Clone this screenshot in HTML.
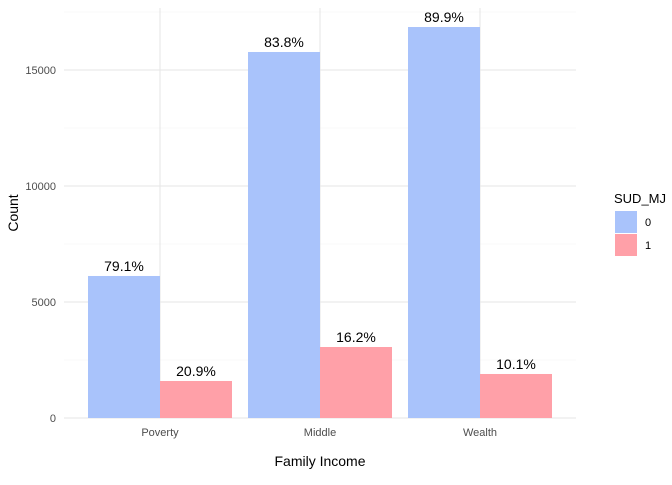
<!DOCTYPE html>
<html><head><meta charset="utf-8"><style>
body{margin:0;background:#fff;font-family:"Liberation Sans",sans-serif;}
</style></head><body>
<svg id="chart" width="672" height="480" xmlns="http://www.w3.org/2000/svg" font-family="Liberation Sans, sans-serif"></svg>
<script>
const categories=["Poverty","Middle","Wealth"];
const series0=[6121,15776,16853];
const series1=[1595,3060,1897];
const labels0=["79.1%","83.8%","89.9%"];
const labels1=["20.9%","16.2%","10.1%"];
const yTicks=[0,5000,10000,15000];
const yMinor=[2500,7500,12500,17500];
const legendKeys=["0","1"];

const svg=document.getElementById('chart');
const NS='http://www.w3.org/2000/svg';
const L=64,R=576,T=8,B=418;
function y(v){return 418-v*116/5000;}
function x(i){return 160+i*160;}
function mk(tag,attrs,parent){const e=document.createElementNS(NS,tag);for(const k in attrs)e.setAttribute(k,attrs[k]);(parent||svg).appendChild(e);return e;}
yMinor.forEach(v=>{const l=mk('line',{x1:L,x2:R,y1:y(v),y2:y(v),stroke:'#f2f2f2','stroke-width':0.6});

});
yTicks.forEach(v=>{const l=mk('line',{x1:L,x2:R,y1:y(v),y2:y(v),stroke:'#e6e6e6','stroke-width':1.1});


const t=mk('text',{x:56,y:y(v)+4,'text-anchor':'end','font-size':11,fill:'#4d4d4d'});t.textContent=v;

});
categories.forEach((c,i)=>{const l=mk('line',{x1:x(i),x2:x(i),y1:T,y2:B,stroke:'#e6e6e6','stroke-width':1.1});


const w=72;
const b0=mk('rect',{x:x(i)-w,y:y(series0[i]),width:w,height:B-y(series0[i]),fill:'#a9c3fb'});


const b1=mk('rect',{x:x(i),y:y(series1[i]),width:w,height:B-y(series1[i]),fill:'#ffa0a8'});


const t0=mk('text',{x:x(i)-w/2,y:y(series0[i])-5,'text-anchor':'middle','font-size':14,fill:'#000'});t0.textContent=labels0[i];


const t1=mk('text',{x:x(i)+w/2,y:y(series1[i])-5,'text-anchor':'middle','font-size':14,fill:'#000'});t1.textContent=labels1[i];


const tx=mk('text',{x:x(i),y:436,'text-anchor':'middle','font-size':11,fill:'#4d4d4d'});tx.textContent=c;

});
const xt=mk('text',{x:320,y:466,'text-anchor':'middle','font-size':14,fill:'#000'});xt.textContent='Family Income';


const yt=mk('text',{x:18,y:213,'text-anchor':'middle','font-size':14,fill:'#000',transform:'rotate(-90 18 213)'});yt.textContent='Count';


const lt=mk('text',{x:614,y:203,'font-size':13,fill:'#000'});lt.textContent='SUD_MJ';


const cols=['#a9c3fb','#ffa0a8'];
legendKeys.forEach((k,i)=>{const r=mk('rect',{x:615,y:211+i*23,width:22,height:22,fill:cols[i]});


const t=mk('text',{x:645,y:226+i*23,'font-size':11,fill:'#000'});t.textContent=k;

});
</script>
</body></html>
